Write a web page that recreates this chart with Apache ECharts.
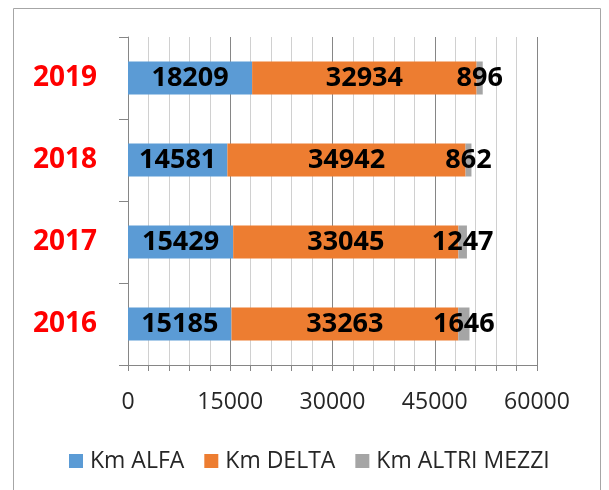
<!DOCTYPE html>
<html><head><meta charset="utf-8">
<script src="https://cdn.jsdelivr.net/npm/echarts@6/dist/echarts.min.js"></script>
<style>html,body{margin:0;padding:0;background:#fff}#c{width:609px;height:490px}</style>
</head><body><div id="c"></div>
<script>
const years = ['2016', '2017', '2018', '2019'];
const kmAlfa = [15185, 15429, 14581, 18209];
const kmDelta = [33263, 33045, 34942, 32934];
const kmAltri = [1646, 1247, 862, 896];
const seriesNames = ['Km ALFA', 'Km DELTA', 'Km ALTRI MEZZI'];
const colors = ['#5B9BD5', '#ED7D31', '#A5A5A5'];
const FONT = 'Open Sans';

const chart = echarts.init(document.getElementById('c'));
const labelStyle = {show: true, position: 'inside', color: '#000', fontFamily: FONT, fontWeight: 'bold', fontSize: 27};
function mk(name, data, color) {
  return {name, type: 'bar', stack: 'km', data, barWidth: 33, itemStyle: {color},
    label: labelStyle, emphasis: {disabled: true}};
}
chart.setOption({
  animation: false,
  color: colors,
  graphic: [{type: 'rect', shape: {x: 13.5, y: 8.5, width: 587, height: 500}, style: {fill: 'none', stroke: '#a6a6a6', lineWidth: 1}}],
  grid: {left: 128, right: 72, top: 37, bottom: 125, containLabel: false},
  xAxis: {type: 'value', min: 0, max: 60000, interval: 15000,
    axisLine: {show: true, lineStyle: {color: '#868686'}},
    axisTick: {show: true, length: 6, lineStyle: {color: '#868686'}},
    minorTick: {show: true, splitNumber: 5, length: 6, lineStyle: {color: '#868686'}},
    splitLine: {show: true, lineStyle: {color: '#868686'}},
    minorSplitLine: {show: true, lineStyle: {color: '#d0d0d0'}},
    axisLabel: {color: '#262626', fontFamily: FONT, fontSize: 23, margin: 26, formatter: v => String(v)}},
  yAxis: {type: 'category', data: years,
    axisLine: {show: true, lineStyle: {color: '#868686'}},
    axisTick: {show: true, length: 9, lineStyle: {color: '#868686'}},
    axisLabel: {color: '#ff0000', fontFamily: FONT, fontWeight: 'bold', fontSize: 28, margin: 31}},
  legend: {top: 442, left: 64, itemWidth: 14, itemHeight: 14, itemGap: 20,
    icon: 'rect', textStyle: {color: '#262626', fontFamily: FONT, fontSize: 23, lineHeight: 28, padding: [0, 0, 0, 2]},
    data: seriesNames},
  series: [mk(seriesNames[0], kmAlfa, colors[0]), mk(seriesNames[1], kmDelta, colors[1]), mk(seriesNames[2], kmAltri, colors[2])]
});
</script></body></html>
